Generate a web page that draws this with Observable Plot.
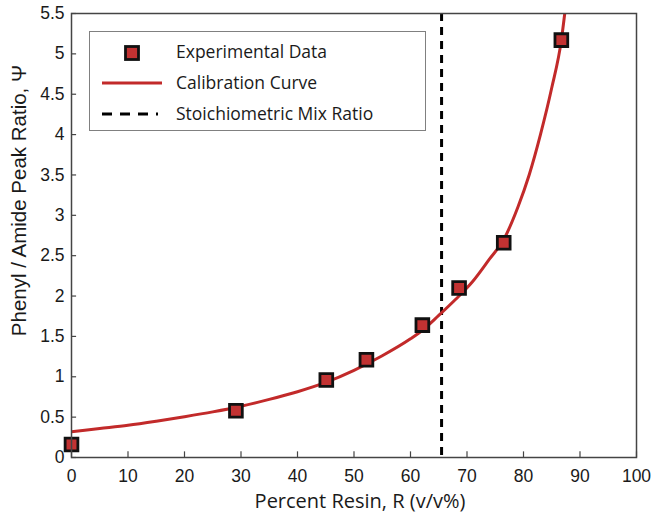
<!DOCTYPE html>
<html>
<head>
<meta charset="utf-8">
<script src="https://cdn.jsdelivr.net/npm/d3@7"></script>
<script src="https://cdn.jsdelivr.net/npm/@observablehq/plot@0.6"></script>
<style>
  html, body { margin: 0; padding: 0; background: #ffffff; }
  #wrap { position: relative; width: 652px; height: 517px; }
  #legend {
    position: absolute; left: 89px; top: 31px; width: 337px; height: 100px;
    border: 1px solid #808080; background: #ffffff; box-sizing: border-box;
    font-family: "Open Sans", Lato, sans-serif; font-size: 17.5px; color: #1a1a1a;
  }
  #legend svg { position: absolute; left: 0; top: 0; }
  #legend .lbl { position: absolute; left: 86px; white-space: nowrap; line-height: 20px; }
</style>
</head>
<body>
<div id="wrap"></div>
<script>
// Experimental data
const resinPct = [0, 29.1, 45.1, 52.2, 62.1, 68.6, 76.5, 86.7];
const peakRatio = [0.16, 0.58, 0.96, 1.21, 1.64, 2.10, 2.66, 5.17];

// Calibration curve
const curveR = [0, 5, 10, 15, 20, 25, 30, 35, 40, 45, 50, 55, 60, 62, 65, 68, 71, 74, 76.5, 79, 81, 83, 85, 86.7, 87.3];
const curvePsi = [0.32, 0.36, 0.40, 0.45, 0.505, 0.565, 0.635, 0.72, 0.815, 0.93, 1.08, 1.26, 1.47, 1.57, 1.76, 1.96, 2.18, 2.46, 2.70, 3.10, 3.50, 4.00, 4.58, 5.17, 5.5];

// Stoichiometric mix ratio
const stoichR = [65.5];

// Ticks
const xTicks = [0, 10, 20, 30, 40, 50, 60, 70, 80, 90, 100];
const yTicks = [0, 0.5, 1, 1.5, 2, 2.5, 3, 3.5, 4, 4.5, 5, 5.5];

const xLabel = "Percent Resin, R (v/v%)";
const yLabel = "Phenyl / Amide Peak Ratio, \u03A8";
const legendLabels = ["Experimental Data", "Calibration Curve", "Stoichiometric Mix Ratio"];

const points = resinPct.map((r, i) => ({r, psi: peakRatio[i]}));
const curve = curveR.map((r, i) => ({r, psi: curvePsi[i]}));

const red = "#c22a2a";
const tickFont = "Arial, 'Liberation Sans', sans-serif";
const labelFont = "'Open Sans', Lato, sans-serif";

const chart = Plot.plot({
  width: 652,
  height: 517,
  marginLeft: 71,
  marginRight: 16,
  marginTop: 13,
  marginBottom: 60,
  style: {background: "#ffffff", color: "#1a1a1a"},
  x: {domain: [0, 100], ticks: xTicks},
  y: {domain: [0, 5.5], ticks: yTicks},
  marks: [
    Plot.axisX(xTicks, {tickSize: 0, tickPadding: 12, label: null, fontSize: 17.5, fontFamily: tickFont, fill: "#1a1a1a", tickFormat: d => String(d)}),
    Plot.axisY(yTicks, {tickSize: 0, tickPadding: 7, label: null, fontSize: 17.5, fontFamily: tickFont, fill: "#1a1a1a", tickFormat: d => String(d)}),
    Plot.ruleX(xTicks, {x: d => d, y1: 0, y2: 0.07, stroke: "#444", strokeWidth: 1.2}),
    Plot.ruleY(yTicks, {y: d => d, x1: 0, x2: 0.9, stroke: "#444", strokeWidth: 1.2}),
    Plot.ruleX(stoichR, {x: d => d, stroke: "#000", strokeWidth: 3, strokeDasharray: "8,6"}),
    Plot.line(curve, {x: "r", y: "psi", curve: "monotone-x", stroke: red, strokeWidth: 3, clip: true}),
    Plot.dot(points, {x: "r", y: "psi", symbol: "square", r: 7.2, fill: "#c23232", stroke: "#111", strokeWidth: 2.8}),
    Plot.frame({stroke: "#444", strokeWidth: 1.5}),
    Plot.text([xLabel], {text: d => d, frameAnchor: "bottom", textAnchor: "middle", lineAnchor: "middle", dy: 44, dx: 6, fontSize: 20, fontFamily: labelFont, fill: "#1a1a1a"}),
    Plot.text([yLabel], {text: d => d, frameAnchor: "left", textAnchor: "middle", lineAnchor: "middle", rotate: -90, dx: -52, dy: -35, fontSize: 20.5, fontFamily: tickFont, fill: "#1a1a1a"})
  ]
});

const wrap = document.getElementById("wrap");
wrap.appendChild(chart);

// Legend overlay (inside the plot frame)
const legend = document.createElement("div");
legend.id = "legend";
const rowsY = [20, 51, 82];
legend.innerHTML = `
<svg width="337" height="100">
  <rect x="35.5" y="14.5" width="13" height="13" fill="#c23232" stroke="#111" stroke-width="2.8"></rect>
  <line x1="12" x2="72" y1="51" y2="51" stroke="${red}" stroke-width="3"></line>
  <line x1="12" x2="68" y1="82" y2="82" stroke="#000" stroke-width="3" stroke-dasharray="10,8"></line>
</svg>
<div class="lbl" style="top:${rowsY[0]-11}px">${legendLabels[0]}</div>
<div class="lbl" style="top:${rowsY[1]-11}px">${legendLabels[1]}</div>
<div class="lbl" style="top:${rowsY[2]-11}px">${legendLabels[2]}</div>
`;
wrap.appendChild(legend);
</script>
</body>
</html>
